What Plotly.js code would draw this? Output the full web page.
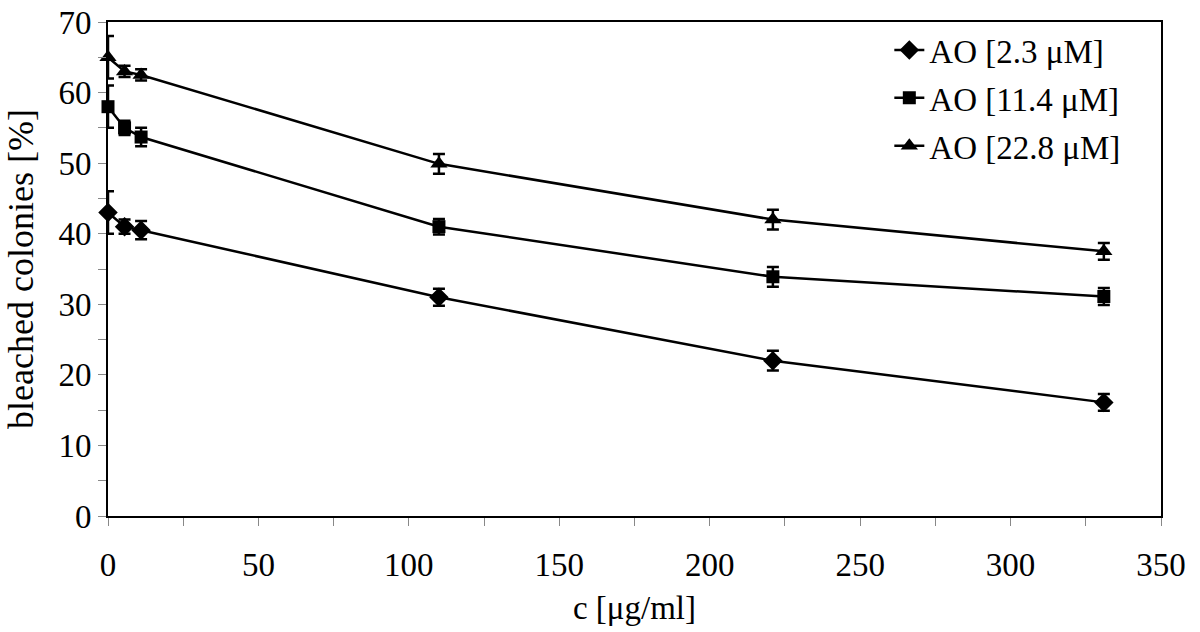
<!DOCTYPE html>
<html>
<head>
<meta charset="utf-8">
<script src="https://cdn.plot.ly/plotly-3.0.1.min.js"></script>
<style>html,body{margin:0;padding:0;background:#fff;}#chart{width:1200px;height:632px;}</style>
</head>
<body>
<div id="chart"></div>
<script>
var concentrations = [0, 5.5, 11, 110, 221, 331];
var seriesNames = ["AO [2.3 \u03bcM]", "AO [11.4 \u03bcM]", "AO [22.8 \u03bcM]"];
var ao23 = [43, 41, 40.5, 31, 22, 16.1];
var ao23Err = [3, 1, 1.3, 1.2, 1.4, 1.2];
var ao114 = [58, 55, 53.7, 41, 33.9, 31.1];
var ao114Err = [3, 1, 1.3, 1.1, 1.4, 1.2];
var ao228 = [65, 63, 62.5, 49.9, 42, 37.5];
var ao228Err = [3, 0.8, 0.8, 1.4, 1.4, 1.2];
var symbols = ["diamond", "square", "triangle-up"];
var markerSizes = [15, 13, 15];

var ys = [ao23, ao114, ao228];
var errs = [ao23Err, ao114Err, ao228Err];
var font = "Liberation Serif, Times New Roman, serif";
var fs = 33;

var traces = ys.map(function (y, i) {
  return {
    x: concentrations,
    y: y,
    name: seriesNames[i],
    legendgroup: "g" + i,
    type: "scatter",
    mode: "lines+markers",
    line: {color: "#000", width: 2.5},
    marker: {symbol: symbols[i], size: markerSizes[i], color: "#000"},
    error_y: {type: "data", array: errs[i], visible: true, color: "#000", thickness: 2.5, width: 6},
    cliponaxis: false
  };
});

var layout = {
  width: 1200, height: 632,
  margin: {l: 108, r: 39, t: 22, b: 116},
  paper_bgcolor: "#fff", plot_bgcolor: "#fff",
  font: {family: font, size: fs, color: "#000"},
  showlegend: true,
  legend: {
    x: 0.742, y: 1.0, xanchor: "left", yanchor: "top",
    bgcolor: "rgba(0,0,0,0)", font: {family: font, size: fs, color: "#000"},
    tracegroupgap: 2, itemwidth: 30
  },
  xaxis: {
    range: [0, 350], dtick: 50, tick0: 0,
    ticks: "outside", ticklen: 8, tickwidth: 1, tickcolor: "#888",
    ticklabelstandoff: 10,
    minor: {dtick: 25, ticks: "outside", ticklen: 8, tickwidth: 1, tickcolor: "#888"},
    showgrid: false, zeroline: false,
    showline: true, linecolor: "#000", linewidth: 2, mirror: true,
    tickfont: {family: font, size: fs, color: "#000"},
    title: {text: "c [\u03bcg/ml]", font: {family: font, size: fs, color: "#000"}, standoff: 14}
  },
  yaxis: {
    range: [0, 70], dtick: 10, tick0: 0,
    ticks: "outside", ticklen: 8, tickwidth: 1, tickcolor: "#888",
    minor: {dtick: 5, ticks: "outside", ticklen: 8, tickwidth: 1, tickcolor: "#888"},
    showgrid: false, zeroline: false,
    showline: true, linecolor: "#000", linewidth: 2, mirror: true,
    tickfont: {family: font, size: fs, color: "#000"},
    title: {text: "bleached colonies [%]", font: {family: font, size: 36, color: "#000"}, standoff: 14}
  }
};

Plotly.newPlot("chart", traces, layout, {displayModeBar: false, staticPlot: true});
</script>
</body>
</html>
